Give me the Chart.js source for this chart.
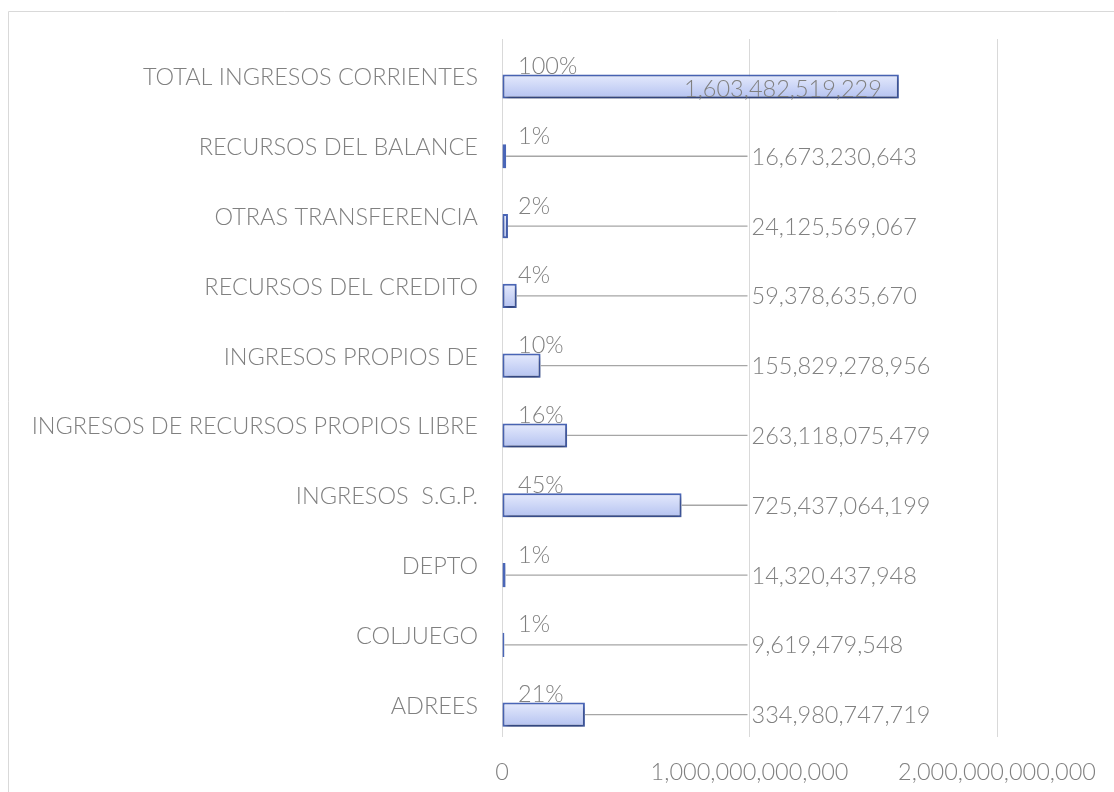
<!DOCTYPE html>
<html>
<head>
<meta charset="utf-8">
<script src="https://cdn.jsdelivr.net/npm/chart.js@4.4.1/dist/chart.umd.min.js"></script>
<style>
    body { margin: 0; background: #fff; }
    #wrap { position: relative; width: 1114px; height: 792px; }
</style>
</head>
<body>
<div id="wrap"><canvas id="chart"></canvas></div>
<script>
const categories = [
    'TOTAL INGRESOS CORRIENTES',
    'RECURSOS DEL BALANCE',
    'OTRAS TRANSFERENCIA',
    'RECURSOS DEL CREDITO',
    'INGRESOS PROPIOS DE',
    'INGRESOS DE RECURSOS PROPIOS LIBRE',
    'INGRESOS  S.G.P.',
    'DEPTO',
    'COLJUEGO',
    'ADREES'
];
const amounts = [
    1603482519229, 16673230643, 24125569067, 59378635670, 155829278956,
    263118075479, 725437064199, 14320437948, 9619479548, 334980747719
];
const shares = [100, 1, 2, 4, 10, 16, 45, 1, 1, 21];
const xTicks = [0, 1000000000000, 2000000000000];

const FONT = 'Lato, "DejaVu Sans", sans-serif';
const FSIZE = 23.5;
const TEXT = '#808080';
const CAT_PCT = 0.72;
const fmt = v => Number(v).toLocaleString('en-US');

// frame around the chart area (only top and left edges fall inside the window)
const framePlugin = {
    id: 'frame',
    beforeDraw(chart) {
        const ctx = chart.ctx;
        ctx.save();
        ctx.strokeStyle = '#d9d9d9';
        ctx.lineWidth = 1;
        ctx.beginPath();
        ctx.moveTo(8.5, chart.height);
        ctx.lineTo(8.5, 11.5);
        ctx.lineTo(chart.width, 11.5);
        ctx.stroke();
        ctx.restore();
    }
};

// vertical gradient per bar, worked out from the category scale
function barGradient(c) {
    const chart = c.chart;
    const ys = chart.scales.y;
    if (!ys || !chart.chartArea) return '#c9d3f6';
    const center = ys.getPixelForValue(c.dataIndex);
    const slot = Math.abs(ys.getPixelForValue(1) - ys.getPixelForValue(0));
    const top = center, bottom = center + slot * CAT_PCT / 2;
    const g = chart.ctx.createLinearGradient(0, top, 0, bottom);
    g.addColorStop(0, '#e6ebfd');
    g.addColorStop(1, '#b3c1f0');
    return g;
}

// soft shadow under the amount bars
const barShadow = {
    id: 'barShadow',
    beforeDatasetDraw(chart, args) {
        if (args.index !== 1) return;
        const ctx = chart.ctx;
        ctx.save();
        ctx.shadowColor = 'rgba(0,0,0,0.4)';
        ctx.shadowBlur = 5;
        ctx.shadowOffsetX = 1;
        ctx.shadowOffsetY = 3;
    },
    afterDatasetDraw(chart, args) {
        if (args.index !== 1) return;
        chart.ctx.restore();
    }
};

// share labels (top half of slot) and amount labels with leader lines
const labelPlugin = {
    id: 'labels',
    afterDatasetsDraw(chart) {
        const ctx = chart.ctx;
        const xs = chart.scales.x;
        const leaderEnd = xs.getPixelForValue(1000000000000) - 2;
        const pctMeta = chart.getDatasetMeta(0);
        const amtMeta = chart.getDatasetMeta(1);
        ctx.save();
        ctx.font = `300 ${FSIZE}px ${FONT}`;
        ctx.fillStyle = TEXT;
        ctx.textBaseline = 'middle';
        pctMeta.data.forEach((el, i) => {
            ctx.textAlign = 'left';
            ctx.fillText(shares[i] + '%', xs.left + 16, el.y + 5);
        });
        amtMeta.data.forEach((el, i) => {
            const txt = fmt(amounts[i]);
            if (el.x > leaderEnd + 20) {
                ctx.textAlign = 'right';
                ctx.fillText(txt, el.x - 17, el.y + 3);
                return;
            }
            ctx.strokeStyle = '#a6a6a6';
            ctx.lineWidth = 1.3;
            ctx.beginPath();
            ctx.moveTo(el.x, el.y);
            ctx.lineTo(leaderEnd, el.y);
            ctx.stroke();
            ctx.textAlign = 'left';
            ctx.fillText(txt, leaderEnd + 4, el.y + 1);
        });
        ctx.restore();
    }
};

new Chart(document.getElementById('chart'), {
    type: 'bar',
    data: {
        labels: categories,
        datasets: [
            {
                label: '%',
                data: shares,
                backgroundColor: 'rgba(0,0,0,0)',
                borderWidth: 0
            },
            {
                label: 'Valor',
                data: amounts,
                backgroundColor: barGradient,
                borderColor: '#4a66b8',
                borderWidth: 2,
                borderSkipped: false
            }
        ]
    },
    options: {
        indexAxis: 'y',
        responsive: true,
        maintainAspectRatio: false,
        animation: false,
        categoryPercentage: CAT_PCT,
        barPercentage: 0.96,
        layout: { padding: { top: 39, right: 117, bottom: 0, left: 0 } },
        plugins: {
            legend: { display: false },
            tooltip: { enabled: false }
        },
        scales: {
            x: {
                min: 0,
                max: 2000000000000,
                afterBuildTicks: s => { s.ticks = xTicks.map(v => ({ value: v })); },
                afterFit: s => {
                    s.height = 55;
                    s.paddingLeft = 0;
                    s.paddingRight = 0;
                },
                grid: { color: '#d9d9d9', drawTicks: false },
                border: { display: false },
                ticks: {
                    padding: 21,
                    color: TEXT,
                    font: { family: FONT, size: FSIZE, weight: 300 },
                    maxRotation: 0,
                    callback: v => fmt(v)
                }
            },
            y: {
                afterFit: s => { s.width = 502; },
                grid: { display: false, drawTicks: false },
                border: { display: false },
                ticks: {
                    padding: 24,
                    labelOffset: 4,
                    color: TEXT,
                    font: { family: FONT, size: FSIZE, weight: 300 }
                }
            }
        }
    },
    plugins: [framePlugin, barShadow, labelPlugin]
});
</script>
</body>
</html>
